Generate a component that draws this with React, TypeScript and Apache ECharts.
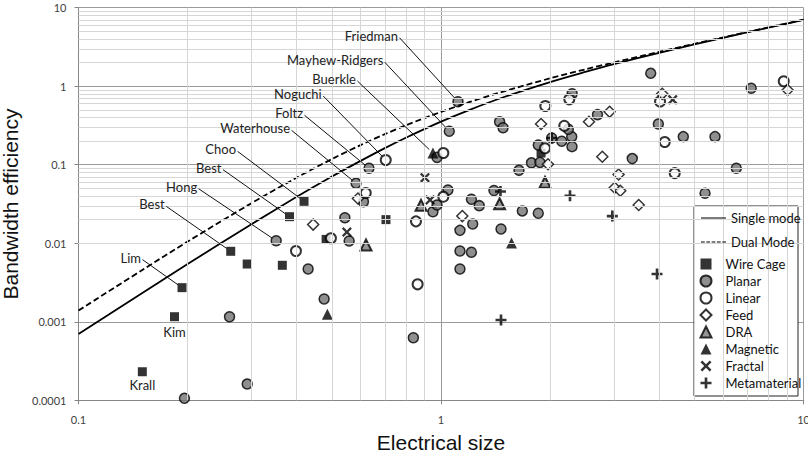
import React, { useEffect, useRef } from 'react';
import * as echarts from 'echarts';

// ---------- axes ----------
const xTickLabels = ['0.1', '1', '10'];
const yTickLabels = ['0.0001', '0.001', '0.01', '0.1', '1', '10'];
const minorMultipliers = [2, 3, 4, 5, 6, 7, 8, 9];
const xDecades = [0.1, 1];
const yDecades = [0.0001, 0.001, 0.01, 0.1, 1];

// ---------- limit curves ----------
const curveSize = [0.1, 0.15, 0.2, 0.3, 0.4, 0.5, 0.6, 0.7, 0.8, 1, 1.2, 1.5, 2, 2.5, 3, 4, 5, 6, 8, 10];
const singleMode = [0.0007, 0.00233, 0.00544, 0.0175, 0.039, 0.0707, 0.112, 0.163, 0.221, 0.354, 0.501, 0.734, 1.13, 1.52, 1.91, 2.66, 3.4, 4.13, 5.57, 7.0];
const dualMode = [0.00139, 0.00457, 0.0105, 0.0324, 0.0686, 0.118, 0.178, 0.245, 0.318, 0.471, 0.63, 0.868, 1.26, 1.64, 2.01, 2.74, 3.47, 4.18, 5.61, 7.04];

// ---------- antenna data [electrical size, bandwidth efficiency] ----------
const wireCage = [
  [0.150, 0.000231], [0.184, 0.00116], [0.193, 0.00272], [0.263, 0.0079], [0.292, 0.00544],
  [0.365, 0.00524], [0.382, 0.0218], [0.419, 0.0342], [0.482, 0.0112], [0.705, 0.02], [1.888, 0.141],
];
const planar = [
  [0.196, 0.000106], [0.261, 0.00116], [0.292, 0.000161], [0.351, 0.01075], [0.43, 0.0047],
  [0.476, 0.00195], [0.543, 0.0211], [0.558, 0.0107], [0.583, 0.058], [0.611, 0.0338],
  [0.633, 0.0901], [0.839, 0.000627], [0.975, 0.124], [0.95, 0.0252], [0.975, 0.0307],
  [1.045, 0.0477], [1.054, 0.267], [1.114, 0.635], [1.128, 0.0146], [1.223, 0.0176],
  [1.464, 0.0152], [1.128, 0.00797], [1.213, 0.00767], [1.128, 0.0047], [1.213, 0.0363],
  [1.275, 0.0301], [1.4, 0.047], [1.451, 0.353], [1.483, 0.296], [1.641, 0.0849],
  [1.676, 0.0258], [1.777, 0.1058], [1.875, 0.1071], [1.855, 0.0241], [1.855, 0.178],
  [2.02, 0.219], [2.153, 0.199], [2.294, 0.228], [2.298, 0.17], [2.245, 0.283],
  [2.3, 0.803], [2.702, 0.434], [3.37, 0.1198], [3.789, 1.46], [3.977, 0.33],
  [4.66, 0.228], [5.35, 0.0433], [5.7, 0.228], [6.526, 0.0901], [7.174, 0.941],
];
const linear = [
  [0.398, 0.00797], [0.497, 0.01157], [0.62, 0.0437], [0.704, 0.115], [0.853, 0.019],
  [0.862, 0.003], [1.015, 0.141], [1.015, 0.0392], [1.94, 0.56], [1.936, 0.162],
  [2.188, 0.313], [2.259, 0.681], [4.02, 0.639], [4.142, 0.195], [4.413, 0.0781], [8.82, 1.155],
];
const feed = [
  [0.444, 0.0173], [0.59, 0.0372], [1.145, 0.0222], [1.888, 0.33], [1.973, 0.1016],
  [2.56, 0.353], [2.786, 0.1266], [2.918, 0.472], [3.09, 0.0751], [3.014, 0.051],
  [3.123, 0.0467], [3.511, 0.0307], [4.076, 0.8], [9.04, 0.895],
];
const dra = [[0.621, 0.0095], [0.881, 0.0304], [1.451, 0.0318], [1.936, 0.0599]];
const magnetic = [[0.486, 0.001245], [0.95, 0.141], [1.565, 0.01008]];
const fractal = [[0.55, 0.0139], [0.903, 0.0684], [0.933, 0.0356], [4.357, 0.673]];
const metamaterial = [[1.459, 0.0456], [2.02, 0.219], [2.269, 0.0403], [2.969, 0.0222], [1.464, 0.001054], [3.944, 0.00406]];

const seriesData: Record<string, number[][]> = { wireCage, planar, linear, magnetic };

// ---------- annotations: which point, and where its label sits (px offset) ----------
const annotations = [
  { text: 'Krall', series: 'wireCage', index: 0, dx: 0, dy: 13, leader: false },
  { text: 'Kim', series: 'wireCage', index: 1, dx: 0, dy: 15, leader: false },
  { text: 'Lim', series: 'wireCage', index: 2, dx: -41, dy: -30, leader: true },
  { text: 'Best', series: 'wireCage', index: 3, dx: -66, dy: -47, leader: true },
  { text: 'Hong', series: 'planar', index: 3, dx: -79, dy: -54, leader: true },
  { text: 'Best', series: 'wireCage', index: 6, dx: -68, dy: -49, leader: true },
  { text: 'Choo', series: 'wireCage', index: 7, dx: -68, dy: -52, leader: true },
  { text: 'Waterhouse', series: 'planar', index: 8, dx: -66, dy: -55, leader: true },
  { text: 'Foltz', series: 'planar', index: 10, dx: -66, dy: -55, leader: true },
  { text: 'Noguchi', series: 'linear', index: 3, dx: -64, dy: -66, leader: true },
  { text: 'Buerkle', series: 'magnetic', index: 1, dx: -77, dy: -74, leader: true },
  { text: 'Mayhew-Ridgers', series: 'planar', index: 16, dx: -66, dy: -71, leader: true },
  { text: 'Friedman', series: 'planar', index: 17, dx: -60, dy: -66, leader: true },
];

const X_PATH = 'path://M0,1.6L1.6,0L5,3.4L8.4,0L10,1.6L6.6,5L10,8.4L8.4,10L5,6.6L1.6,10L0,8.4L3.4,5Z';
const PLUS_PATH = 'path://M3.8,0H6.2V3.8H10V6.2H6.2V10H3.8V6.2H0V3.8H3.8Z';
const SOLID_ICON = 'path://M0,0H24V1H0Z';
const DASH_ICON = 'path://M0,0H3.6V1H0Z M5.1,0H8.7V1H5.1Z M10.2,0H13.8V1H10.2Z M15.3,0H18.9V1H15.3Z M20.4,0H24V1H20.4Z';

const LABEL_FONT = 'Lato, "Noto Sans", sans-serif';

function scatter(name: string, data: number[][], symbol: string, size: number, itemStyle: any) {
  return {
    type: 'scatter',
    name,
    data,
    symbol,
    symbolSize: size,
    itemStyle,
    emphasis: { disabled: true },
    z: 3,
  };
}

export default function App() {
  const ref = useRef<HTMLDivElement>(null);

  useEffect(() => {
    document.body.style.margin = '0';
    if (!ref.current) return;
    const chart = echarts.init(ref.current, undefined, { renderer: 'svg' });

    const minorX: number[] = [];
    xDecades.forEach((d) => minorMultipliers.forEach((m) => minorX.push(d * m)));
    const minorY: number[] = [];
    yDecades.forEach((d) => minorMultipliers.forEach((m) => minorY.push(d * m)));

    const axisLabel = { fontFamily: LABEL_FONT, fontSize: 11, color: '#404040' };
    const legendText = { fontFamily: LABEL_FONT, fontSize: 13, color: '#111' };

    const option: any = {
      animation: false,
      backgroundColor: '#fff',
      grid: { left: 78.5, right: 4.5, top: 7.7, bottom: 56.7, containLabel: false, outerBoundsMode: 'none' },
      xAxis: {
        type: 'log',
        logBase: 10,
        min: 0.1,
        max: 10,
        name: 'Electrical size',
        nameLocation: 'middle',
        nameGap: 32,
        nameTextStyle: { fontFamily: '"Liberation Sans", Arial, sans-serif', fontSize: 21, color: '#111' },
        axisLine: { show: true, lineStyle: { color: '#868686', width: 1 } },
        axisTick: { show: true, length: 4, lineStyle: { color: '#868686' } },
        axisLabel: { ...axisLabel, margin: 14, formatter: (v: number) => xTickLabels[Math.round(Math.log10(v)) + 1] },
        splitLine: { show: true, lineStyle: { color: '#9a9a9a', width: 1 } },
        minorTick: { show: false },
      },
      yAxis: {
        type: 'log',
        logBase: 10,
        min: 0.0001,
        max: 10,
        name: 'Bandwidth efficiency',
        nameLocation: 'middle',
        nameGap: 46,
        nameTextStyle: { fontFamily: '"Liberation Sans", Arial, sans-serif', fontSize: 21, color: '#111' },
        axisLine: { show: true, lineStyle: { color: '#868686', width: 1 } },
        axisTick: { show: true, length: 4, lineStyle: { color: '#868686' } },
        axisLabel: { ...axisLabel, margin: 12, formatter: (v: number) => yTickLabels[Math.round(Math.log10(v)) + 4] },
        splitLine: { show: true, lineStyle: { color: '#9a9a9a', width: 1 } },
        minorTick: { show: false },
      },
      legend: [
        {
          data: [
            { name: 'Single mode', icon: SOLID_ICON },
            { name: 'Dual Mode', icon: DASH_ICON },
          ],
          orient: 'vertical',
          left: 701,
          top: 211.5,
          padding: 0,
          itemWidth: 25,
          itemHeight: 1.8,
          itemGap: 11,
          textStyle: legendText,
          selectedMode: false,
          z: 10,
        },
        {
          data: ['Wire Cage', 'Planar', 'Linear', 'Feed', 'DRA', 'Magnetic', 'Fractal', 'Metamaterial'],
          orient: 'vertical',
          left: 699.5,
          top: 257.5,
          padding: 0,
          itemWidth: 11,
          itemHeight: 11,
          itemGap: 4,
          textStyle: { ...legendText, padding: [0, 0, 0, 9] },
          selectedMode: false,
          z: 10,
        },
      ],
      graphic: [
        {
          type: 'rect',
          z: 5,
          shape: { x: 694, y: 206, width: 104, height: 190 },
          style: { fill: '#fff', stroke: '#222', lineWidth: 1 },
          silent: true,
        },
      ],
      series: [
        {
          type: 'line',
          name: 'minor-grid',
          data: [[1, 1]],
          symbol: 'none',
          lineStyle: { opacity: 0 },
          silent: true,
          z: 1,
          markLine: {
            silent: true,
            symbol: ['none', 'none'],
            label: { show: false },
            emphasis: { disabled: true },
            lineStyle: { color: '#d6d6d6', type: 'solid', width: 1 },
            data: [...minorX.map((v) => ({ xAxis: v })), ...minorY.map((v) => ({ yAxis: v }))],
          },
        },
        scatter('Wire Cage', wireCage, 'rect', 9, { color: '#000' }),
        scatter('Planar', planar, 'circle', 10, { color: '#737373', borderColor: '#000', borderWidth: 1.5 }),
        scatter('Linear', linear, 'circle', 10, { color: '#fff', borderColor: '#000', borderWidth: 2 }),
        scatter('Feed', feed, 'diamond', 11, { color: '#fff', borderColor: '#000', borderWidth: 1.5 }),
        scatter('DRA', dra, 'triangle', 11, { color: '#7a7a7a', borderColor: '#000', borderWidth: 2 }),
        scatter('Magnetic', magnetic, 'triangle', 11, { color: '#000' }),
        scatter('Fractal', fractal, X_PATH, 10, { color: '#000' }),
        scatter('Metamaterial', metamaterial, PLUS_PATH, 11, { color: '#000' }),
        {
          type: 'line',
          name: 'Single mode',
          data: curveSize.map((x, i) => [x, singleMode[i]]),
          symbol: 'none',
          smooth: 0.3,
          lineStyle: { color: '#000', width: 1.8, type: 'solid' },
          itemStyle: { color: '#000' },
          emphasis: { disabled: true },
          z: 4,
        },
        {
          type: 'line',
          name: 'Dual Mode',
          data: curveSize.map((x, i) => [x, dualMode[i]]),
          symbol: 'none',
          smooth: 0.3,
          lineStyle: { color: '#000', width: 1.8, type: [6, 3] },
          itemStyle: { color: '#000' },
          emphasis: { disabled: true },
          z: 4,
        },
        {
          type: 'custom',
          name: 'annotations',
          data: annotations.map((a) => seriesData[a.series][a.index]),
          encode: { x: 0, y: 1 },
          clip: false,
          silent: true,
          z: 6,
          renderItem: (params: any, api: any) => {
            const a = annotations[params.dataIndex];
            const p = api.coord([api.value(0), api.value(1)]);
            const lx = p[0] + a.dx;
            const ly = p[1] + a.dy;
            const children: any[] = [];
            if (a.leader) {
              const sx = lx + 1.5;
              const sy = ly + 2;
              const vx = p[0] - sx;
              const vy = p[1] - sy;
              const len = Math.hypot(vx, vy);
              const ex = p[0] - (vx / len) * 5;
              const ey = p[1] - (vy / len) * 5;
              children.push({
                type: 'line',
                shape: { x1: sx, y1: sy, x2: ex, y2: ey },
                style: { stroke: '#111', lineWidth: 1 },
              });
            }
            children.push({
              type: 'text',
              x: lx,
              y: ly,
              style: {
                text: a.text,
                align: a.leader ? 'right' : 'center',
                verticalAlign: 'middle',
                fill: '#222',
                fontSize: 13,
                fontFamily: LABEL_FONT,
              },
            });
            return { type: 'group', children };
          },
        },
      ],
    };

    chart.setOption(option);
    return () => chart.dispose();
  }, []);

  return <div ref={ref} style={{ width: 808, height: 457 }} />;
}
